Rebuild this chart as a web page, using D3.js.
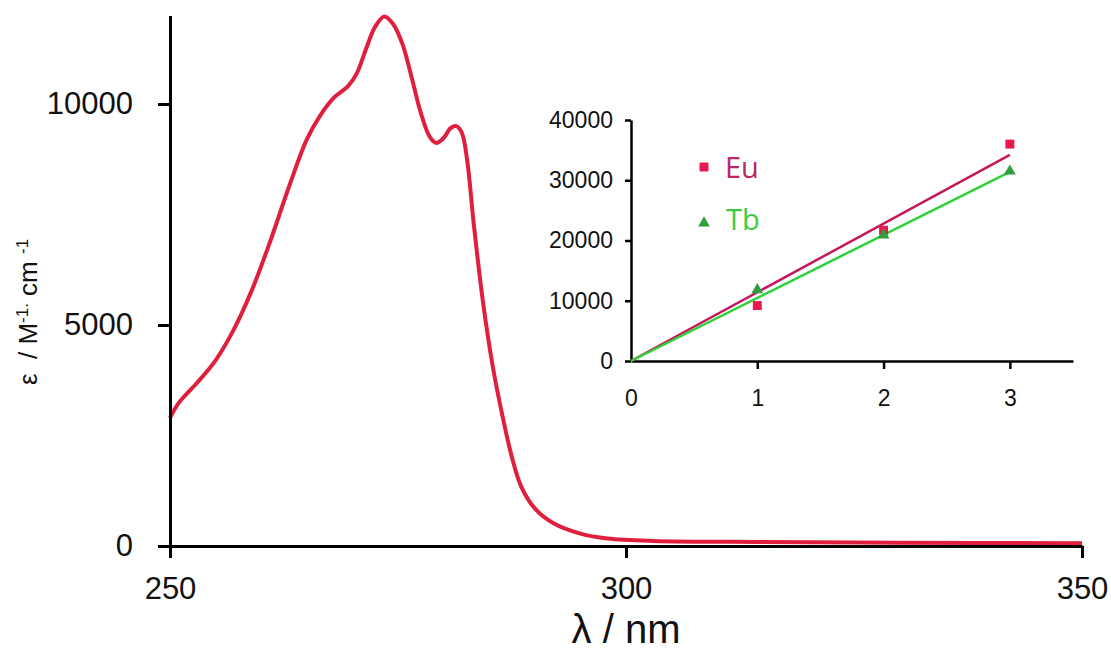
<!DOCTYPE html>
<html>
<head>
<meta charset="utf-8">
<script src="https://cdn.jsdelivr.net/npm/d3@7"></script>
<style>
  body { margin: 0; background: #fff; }
  svg { display: block; font-family: "Liberation Sans", Arial, sans-serif; }
  .axis path, .axis line { stroke: #000; }
  .axis text { fill: #111; }
</style>
</head>
<body>
<svg width="1111" height="653"></svg>
<script>
/* ==================== DATA ==================== */

// main absorption spectrum (nm, M-1 cm-1)
var wavelength = [250, 251, 253, 255, 257, 259, 261, 263, 265, 266.5, 268, 269.5, 270.5, 271.5, 272.5, 273.5, 274.5, 275.5, 276.5, 277.5, 278.5, 279.2, 280, 280.8, 281.4, 282, 282.6, 283.3, 284.3, 285.4, 286.5, 287.5, 288.5, 290, 292, 295, 298, 303, 315, 330, 350];
var epsilon = [2900, 3250, 3700, 4200, 4900, 5800, 6900, 8100, 9200, 9750, 10150, 10400, 10700, 11250, 11750, 11980, 11800, 11350, 10600, 9800, 9250, 9120, 9230, 9460, 9500, 9350, 8700, 7300, 5550, 4050, 2900, 2000, 1350, 850, 520, 280, 170, 115, 90, 75, 65];

var mainXTicks = [250, 300, 350];
var mainYTicks = [0, 5000, 10000];

// inset: epsilon vs number of chromophores
var insetN = [1, 2, 3];
var euValues = [9200, 21700, 36000];
var tbValues = [11800, 20900, 31500];
var fitX = [0, 3];
var euFit = [0, 34200];
var tbFit = [0, 31400];

var insetXTicks = [0, 1, 2, 3];
var insetYTicks = [0, 10000, 20000, 30000, 40000];

/* ==================== MAIN CHART ==================== */

var svg = d3.select("svg");

var x = d3.scaleLinear().domain([250, 350]).range([170, 1082]);
var y = d3.scaleLinear().domain([0, 12000]).range([546, 15.6]);

svg.append("path")
    .datum(wavelength.map(function(d, i) { return [d, epsilon[i]]; }))
    .attr("fill", "none")
    .attr("stroke", "#e01f3d")
    .attr("stroke-width", 4)
    .attr("stroke-linejoin", "round")
    .attr("d", d3.line()
        .curve(d3.curveCatmullRom.alpha(0.5))
        .x(function(d) { return x(d[0]); })
        .y(function(d) { return y(d[1]); }));

var xAxis = svg.append("g")
    .attr("class", "axis")
    .attr("transform", "translate(0,546)")
    .call(d3.axisBottom(x).tickValues(mainXTicks).tickFormat(d3.format("d"))
        .tickSize(12).tickSizeOuter(0).tickPadding(19));

var yAxis = svg.append("g")
    .attr("class", "axis")
    .attr("transform", "translate(170,0)")
    .call(d3.axisLeft(y).tickValues(mainYTicks).tickFormat(d3.format("d"))
        .tickSize(12).tickSizeOuter(0).tickPadding(25));

[xAxis, yAxis].forEach(function(a) {
    a.select(".domain").attr("stroke-width", 3);
    a.selectAll(".tick line").attr("stroke-width", 3);
    a.selectAll("text").attr("font-size", 31).attr("font-family", "Liberation Sans, Arial, sans-serif");
});

// axis titles
svg.append("text")
    .attr("x", 626)
    .attr("y", 643)
    .attr("text-anchor", "middle")
    .attr("font-size", 40)
    .attr("fill", "#111")
    .text("λ / nm");

var yTitle = svg.append("text")
    .attr("transform", "translate(37,312) rotate(-90)")
    .attr("text-anchor", "middle")
    .attr("font-size", 26)
    .attr("fill", "#111")
    .style("white-space", "pre");
yTitle.append("tspan").text("ε  / M");
yTitle.append("tspan").attr("baseline-shift", "super").attr("font-size", 17).text("-1.");
yTitle.append("tspan").text(" cm ");
yTitle.append("tspan").attr("baseline-shift", "super").attr("font-size", 17).text("-1");

/* ==================== INSET ==================== */

var ix = d3.scaleLinear().domain([0, 3.5]).range([631, 1073]);
var iy = d3.scaleLinear().domain([0, 40000]).range([361, 120]);

var ixAxis = svg.append("g")
    .attr("class", "axis")
    .attr("transform", "translate(0,361)")
    .call(d3.axisBottom(ix).tickValues(insetXTicks).tickFormat(d3.format("d"))
        .tickSize(8).tickSizeOuter(0).tickPadding(21));

var iyAxis = svg.append("g")
    .attr("class", "axis")
    .attr("transform", "translate(631,0)")
    .call(d3.axisLeft(iy).tickValues(insetYTicks).tickFormat(d3.format("d"))
        .tickSize(6).tickSizeOuter(0).tickPadding(12));

[ixAxis, iyAxis].forEach(function(a) {
    a.select(".domain").attr("stroke-width", 2.5);
    a.selectAll(".tick line").attr("stroke-width", 2.5);
    a.selectAll("text").attr("font-size", 23).attr("font-family", "Liberation Sans, Arial, sans-serif");
});
ixAxis.selectAll(".tick").filter(function(d) { return d === 0; }).select("line").remove();

var fitLine = d3.line()
    .x(function(d) { return ix(d[0]); })
    .y(function(d) { return iy(d[1]); });

svg.append("path")
    .datum(fitX.map(function(d, i) { return [d, euFit[i]]; }))
    .attr("fill", "none")
    .attr("stroke", "#c4185a")
    .attr("stroke-width", 2.5)
    .attr("d", fitLine);

svg.append("path")
    .datum(fitX.map(function(d, i) { return [d, tbFit[i]]; }))
    .attr("fill", "none")
    .attr("stroke", "#2ed13c")
    .attr("stroke-width", 2.5)
    .attr("d", fitLine);

var square = d3.symbol().type(d3.symbolSquare).size(80);
var triangle = d3.symbol().type(d3.symbolTriangle).size(60);

svg.append("g").selectAll("path")
    .data(insetN)
    .enter().append("path")
    .attr("transform", function(d, i) { return "translate(" + ix(d) + "," + iy(euValues[i]) + ")"; })
    .attr("d", square)
    .attr("fill", "#e8194e");

svg.append("g").selectAll("path")
    .data(insetN)
    .enter().append("path")
    .attr("transform", function(d, i) { return "translate(" + ix(d) + "," + iy(tbValues[i]) + ")"; })
    .attr("d", triangle)
    .attr("fill", "#2f9e3c");

/* ==================== LEGEND ==================== */

svg.append("path")
    .attr("transform", "translate(704,167)")
    .attr("d", square)
    .attr("fill", "#e8194e");
svg.append("text")
    .attr("x", 725).attr("y", 178)
    .attr("font-size", 29)
    .attr("font-family", "Open Sans, sans-serif")
    .attr("fill", "#b82866")
    .text("Eu");

svg.append("path")
    .attr("transform", "translate(704,223)")
    .attr("d", triangle)
    .attr("fill", "#2f9e3c");
svg.append("text")
    .attr("x", 726).attr("y", 230)
    .attr("font-size", 29)
    .attr("font-family", "Open Sans, sans-serif")
    .attr("fill", "#3acd45")
    .text("Tb");
</script>
</body>
</html>
